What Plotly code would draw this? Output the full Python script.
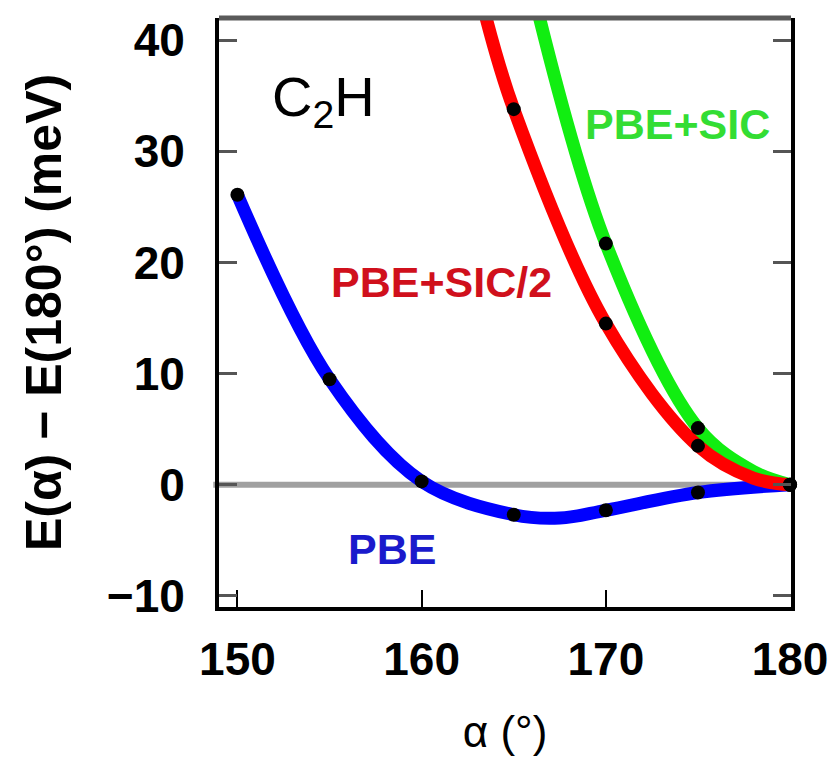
import plotly.graph_objects as go

# ---- data ----
alpha_pts = [150, 155, 160, 165, 170, 175, 180]
pbe_pts = [26.1, 9.5, 0.3, -2.7, -2.3, -0.7, 0.0]

alpha_sic2_pts = [165, 170, 175, 180]
sic2_pts = [33.8, 14.5, 3.5, 0.0]

alpha_sic_pts = [170, 175, 180]
sic_pts = [21.7, 5.1, 0.0]

# fitted curves (as drawn)
alpha_pbe_fit = [150, 155, 160, 165, 167.5, 170, 175, 180]
pbe_fit = [26.1, 9.5, 0.3, -2.7, -3.0, -2.3, -0.7, 0.0]

alpha_sic2_fit = [163.5, 165, 170, 175, 178, 180]
sic2_fit = [42.0, 33.8, 14.5, 3.5, 0.6, 0.0]

alpha_sic_fit = [166.4, 170, 175, 178, 180]
sic_fit = [42.0, 21.7, 5.1, 1.2, 0.0]

x_ticks = [150, 160, 170, 180]
y_ticks = [-10, 0, 10, 20, 30, 40]
y_tick_text = ["−10", "0", "10", "20", "30", "40"]

FONT = "Liberation Sans, Arial, sans-serif"

fig = go.Figure()

def curve(x, y, color):
    fig.add_trace(go.Scatter(x=x, y=y, mode="lines",
                             line=dict(color=color, width=13, shape="spline", smoothing=1.0),
                             hoverinfo="skip", showlegend=False))

def dots(x, y):
    fig.add_trace(go.Scatter(x=x, y=y, mode="markers",
                             marker=dict(color="black", size=14),
                             cliponaxis=False, showlegend=False))

curve(alpha_pbe_fit, pbe_fit, "#0000ff")
curve(alpha_sic_fit, sic_fit, "#11ee11")
curve(alpha_sic2_fit, sic2_fit, "#ff0000")
dots(alpha_pts, pbe_pts)
dots(alpha_sic2_pts, sic2_pts)
dots(alpha_sic_pts, sic_pts)

# zero line
fig.add_shape(type="line", xref="paper", yref="y", x0=-0.01, x1=1, y0=0, y1=0,
              line=dict(color="#a0a0a0", width=6), layer="below")
# top frame line (gray)
fig.add_shape(type="line", xref="paper", yref="paper", x0=0, x1=1, y0=1, y1=1,
              line=dict(color="#5a5a5a", width=5), layer="above")

# labels
fig.add_annotation(x=0.183, y=0.86, xref="paper", yref="paper", text="C<sub>2</sub>H",
                   xanchor="center", yanchor="middle", showarrow=False,
                   font=dict(family=FONT, size=56, color="black"))
fig.add_annotation(x=173.9, y=32.5, xref="x", yref="y", text="<b>PBE+SIC</b>",
                   xanchor="center", yanchor="middle", showarrow=False,
                   font=dict(family=FONT, size=43, color="#33dd33"))
fig.add_annotation(x=161.1, y=18.2, xref="x", yref="y", text="<b>PBE+SIC/2</b>",
                   xanchor="center", yanchor="middle", showarrow=False,
                   font=dict(family=FONT, size=43, color="#d0101c"))
fig.add_annotation(x=158.4, y=-5.8, xref="x", yref="y", text="<b>PBE</b>",
                   xanchor="center", yanchor="middle", showarrow=False,
                   font=dict(family=FONT, size=43, color="#1a1acc"))

fig.update_layout(
    width=836, height=771,
    margin=dict(l=211, r=53, t=6, b=172),
    plot_bgcolor="white", paper_bgcolor="white",
    font=dict(family=FONT, color="black"),
    xaxis=dict(range=[149, 180.05], tickvals=x_ticks, ticks="inside", ticklen=17, tickwidth=2,
               tickcolor="black", showline=True, linecolor="black", linewidth=4, mirror=False,
               showgrid=False, zeroline=False,
               tickfont=dict(family=FONT, size=46, color="black", weight="bold"), ticklabelstandoff=9,
               title=dict(text="α (°)", font=dict(family=FONT, size=44, color="black"), standoff=33)),
    yaxis=dict(range=[-11, 42], tickvals=y_ticks, ticktext=y_tick_text,
               ticks="inside", ticklen=18, tickwidth=3, tickcolor="#555555",
               showline=True, linecolor="black", linewidth=4, mirror="ticks",
               showgrid=False, zeroline=False,
               tickfont=dict(family=FONT, size=46, color="black", weight="bold"), ticklabelstandoff=21,
               title=dict(text="<b>E(α) − E(180°) (meV)</b>", font=dict(family=FONT, size=50, color="black"),
                          standoff=30)),
)

fig.write_html("out.html")
